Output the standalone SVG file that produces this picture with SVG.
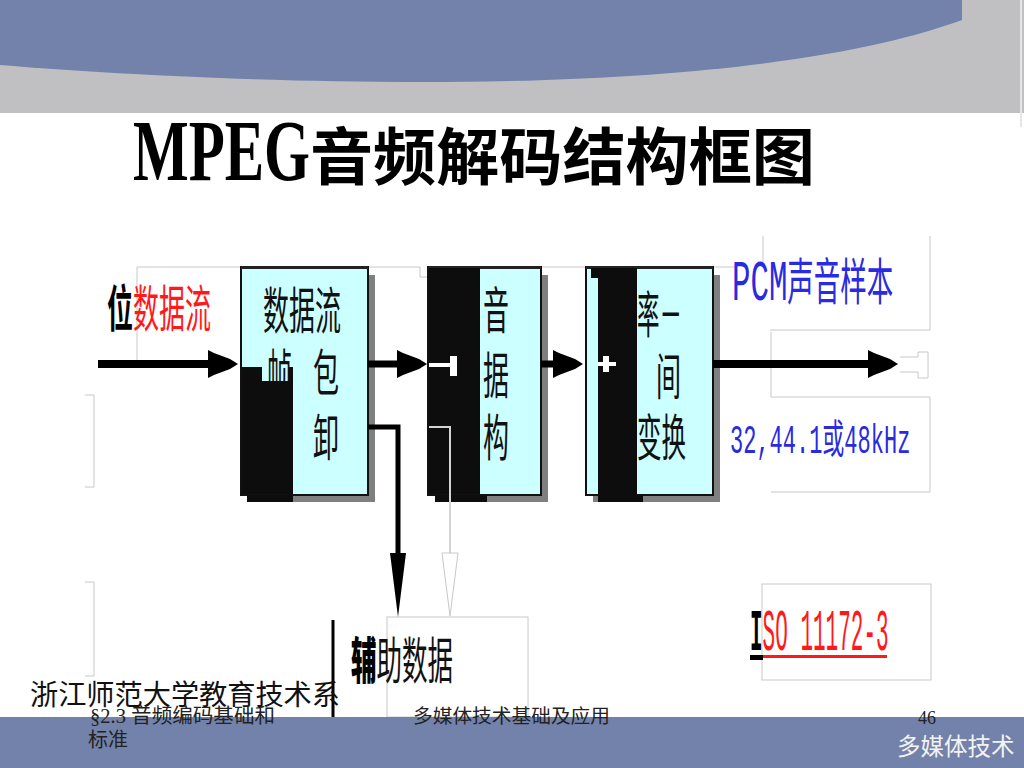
<svg xmlns="http://www.w3.org/2000/svg" width="1024" height="768" viewBox="0 0 1024 768">
<defs>
<style>
.bx{font-family:"Noto Sans CJK SC","Noto Sans",sans-serif;font-size:50px;fill:#111}
.box{fill:#ccffff;stroke:#111;stroke-width:2}
.shd{fill:#7f7f7f}
.blk{fill:#0d0d0d}
.frm{fill:none;stroke:#c8c8c8;stroke-width:1}
.ln{fill:none;stroke:#000}
.foot{font-family:"Liberation Serif","Noto Sans CJK SC",serif;fill:#222}
</style>
<marker id="ah" viewBox="0 0 30 30" markerUnits="userSpaceOnUse" markerWidth="30" markerHeight="30" refX="0" refY="15" orient="auto">
<path d="M0,1 L6,4 L14,7 L22,10 L30,15 L22,20 L14,23 L6,26 L0,29 Z" fill="#000"/>
</marker>
<marker id="ahl" viewBox="0 0 64 16" markerUnits="userSpaceOnUse" markerWidth="64" markerHeight="16" refX="0" refY="8" orient="auto">
<path d="M0,0 L64,8 L0,16 Z" fill="#000"/>
</marker>
<marker id="ahf" viewBox="0 0 66 18" markerUnits="userSpaceOnUse" markerWidth="66" markerHeight="18" refX="1" refY="9" orient="auto">
<path d="M1,1 L64,9 L1,17 Z" fill="#fff" stroke="#c8c8c8" stroke-width="1"/>
</marker>
</defs>

<rect width="1024" height="768" fill="#fff"/>

<g id="header">
<rect x="0" y="0" width="1024" height="113" fill="#c0c0c3"/>
<path d="M0,0 H962 V20 C880,50 720,82 420,82 C260,82 110,74 0,65 Z" fill="#7282aa"/>
<line x1="1021" y1="0" x2="1021" y2="127" stroke="#e6e6e6" stroke-width="2"/>
</g>

<text id="title" x="133" y="180" font-family="'Liberation Serif','Noto Sans CJK SC',serif" font-weight="bold" font-size="62" fill="#000"><tspan font-size="86" textLength="177" lengthAdjust="spacingAndGlyphs">MPEG</tspan><tspan textLength="505" lengthAdjust="spacingAndGlyphs">音频解码结构框图</tspan></text>

<g id="frames">
<path class="frm" d="M137,360 V267 H241"/>
<path class="frm" d="M368,267 H420 V277 H428"/>
<path class="frm" d="M541,267 H586"/>
<path class="frm" d="M713,267 H735"/>
<path class="frm" d="M763,236 V262"/>
<path class="frm" d="M930,236 V330 H770"/>
<path class="frm" d="M771,332 V397 H930 V492 H771"/>
<path class="frm" d="M900,357 H918 V352 H928 V378 H918 V372 H900"/>
<path class="frm" d="M85,395 H94 V487 H85"/>
<path class="frm" d="M85,582 H94 V676 H85"/>
</g>

<g id="bitstream-label">
<text class="bx" transform="translate(107,327) scale(0.52,1)"><tspan font-weight="bold" fill="#000">位</tspan><tspan fill="#ff1a1a">数据流</tspan></text>
</g>

<g id="node-unpack">
<rect class="shd" x="248" y="275" width="127" height="227"/>
<rect class="box" x="241" y="267" width="127" height="228"/>
<rect x="241" y="266" width="127" height="3" fill="#222"/>
<text class="bx" transform="translate(263,329) scale(0.52,1)">数据流</text>
<text class="bx" transform="translate(267,391) scale(0.5,1)">帧</text>
<text class="bx" transform="translate(313,391) scale(0.52,1)">包</text>
<text class="bx" transform="translate(313,456) scale(0.52,1)">卸</text>
<path class="blk" d="M242,367 H262 V381 H289 V367 H293 V494 H242 Z"/>
<rect class="blk" x="247" y="495" width="46" height="7"/>
</g>

<g id="node-reconstruct">
<rect class="shd" x="435" y="275" width="113" height="227"/>
<rect class="box" x="428" y="267" width="113" height="228"/>
<rect x="428" y="266" width="113" height="3" fill="#222"/>
<rect class="blk" x="429" y="268" width="51" height="226"/>
<rect class="blk" x="435" y="495" width="52" height="7"/>
<rect x="429" y="363" width="23" height="4" fill="#fff"/>
<rect x="450" y="356" width="7" height="20" fill="#fff"/>
<text class="bx" transform="translate(483,329) scale(0.52,1)">音</text>
<text class="bx" transform="translate(483,394) scale(0.52,1)">据</text>
<text class="bx" transform="translate(483,456) scale(0.52,1)">构</text>
</g>

<g id="node-inverse">
<rect class="shd" x="593" y="275" width="127" height="227"/>
<rect class="box" x="586" y="267" width="127" height="228"/>
<rect x="586" y="266" width="127" height="3" fill="#222"/>
<rect class="blk" x="598" y="268" width="39" height="229"/>
<rect class="blk" x="591" y="268" width="8" height="10"/>
<rect class="blk" x="598" y="495" width="45" height="7"/>
<rect x="598" y="362" width="18" height="4" fill="#fff"/>
<rect x="603" y="356" width="6" height="16" fill="#fff"/>
<text class="bx" transform="translate(637,333) scale(0.45,1)">率－</text>
<text class="bx" transform="translate(656,395) scale(0.5,1)">间</text>
<text class="bx" transform="translate(637,456) scale(0.49,1)">变换</text>
</g>

<g id="pcm-label">
<text class="bx" transform="translate(732,300) scale(0.53,1)" style="fill:#2a2ae0"><tspan font-family="'Liberation Mono',monospace" font-size="58">PCM</tspan>声音样本</text>
</g>

<g id="rate-label">
<text transform="translate(730,453) scale(0.55,1)" font-family="'Liberation Mono','Noto Sans CJK SC',monospace" font-size="40" fill="#2a2ae0">32,44.1或48kHz</text>
</g>

<g id="iso-label">
<rect class="frm" x="762" y="584" width="169" height="96"/>
<text transform="translate(750,650) scale(0.35,1)" font-family="'Liberation Mono',monospace" font-size="60"><tspan font-weight="bold" fill="#000">I</tspan><tspan fill="#ff1a1a">SO 11172-3</tspan></text>
<rect x="763" y="655" width="124" height="3" fill="#ff1a1a"/>
<rect x="750" y="655" width="13" height="5" fill="#000"/>
</g>

<g id="aux-data">
<rect class="frm" x="387" y="617" width="141" height="100"/>
<line x1="333" y1="620" x2="333" y2="717" stroke="#000" stroke-width="3"/>
<text class="bx" transform="translate(351,679) scale(0.51,1)"><tspan font-weight="900" fill="#000">辅</tspan>助数据</text>
</g>

<g id="connectors">
<path class="ln" d="M98,364 H208" stroke-width="8" marker-end="url(#ah)"/>
<path class="ln" d="M368,364 H397" stroke-width="7" marker-end="url(#ah)"/>
<path class="ln" d="M541,364 H553" stroke-width="7" marker-end="url(#ah)"/>
<path class="ln" d="M713,364 H868" stroke-width="8" marker-end="url(#ah)"/>
<path class="ln" d="M368,427 H398 V553" stroke-width="5" marker-end="url(#ahl)"/>
<path d="M429,427 H450 V553" fill="none" stroke="#d4d4d4" stroke-width="2" marker-end="url(#ahf)"/>
</g>

<g id="footer">
<rect x="0" y="717" width="1024" height="51" fill="#7282aa"/>
<text x="30" y="705" font-family="'Noto Sans CJK SC',sans-serif" font-size="28" fill="#111" textLength="310" lengthAdjust="spacingAndGlyphs">浙江师范大学教育技术系</text>
<text class="foot" x="90" y="723" font-size="20" textLength="185" lengthAdjust="spacingAndGlyphs">§2.3 音频编码基础和</text>
<text class="foot" x="88" y="747" font-size="20">标准</text>
<text class="foot" x="413" y="723" font-size="19" textLength="197" lengthAdjust="spacingAndGlyphs">多媒体技术基础及应用</text>
<text class="foot" x="918" y="724" font-size="18">46</text>
<text x="897" y="755" font-family="'Noto Sans CJK SC',sans-serif" font-size="23.5" fill="#f2f2f2">多媒体技术</text>
</g>
</svg>
